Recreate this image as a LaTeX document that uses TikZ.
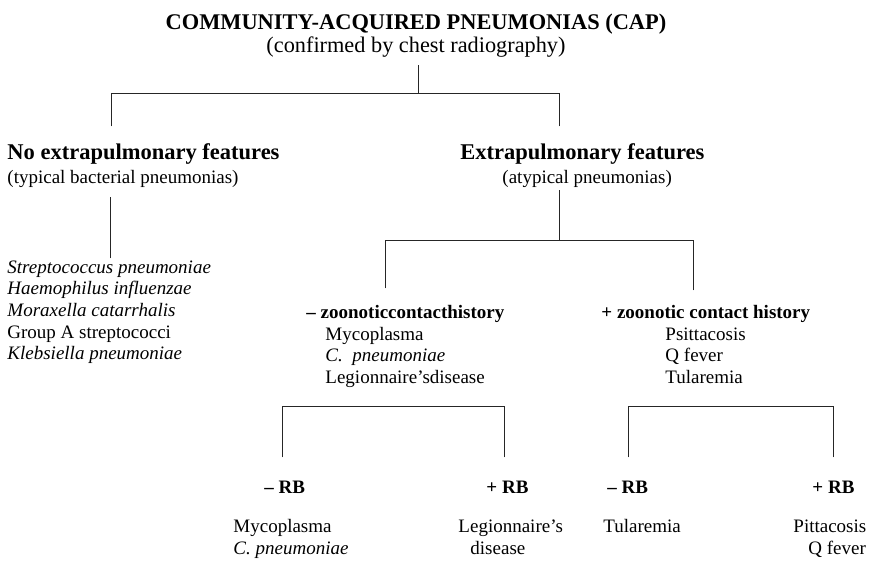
\documentclass[tikz,border=0pt]{standalone}
\usepackage{fontspec}
\setmainfont{Liberation Serif}
\begin{document}
\begin{tikzpicture}[x=1pt,y=-1pt,line width=0.9pt,
  conn/.style={draw=black!85,line cap=rect},
  titlefont/.style={inner sep=0,anchor=base,font=\fontsize{22.4}{26}\selectfont\bfseries},
  subtitlefont/.style={inner sep=0,anchor=base,font=\fontsize{22.3}{26}\selectfont},
  headfont/.style={inner sep=0,anchor=base west,font=\fontsize{22.5}{26}\selectfont\bfseries},
  subhead/.style={inner sep=0,anchor=base west,font=\fontsize{19}{21.7}\selectfont},
  boldhead/.style={inner sep=0,anchor=base west,font=\fontsize{19}{21.7}\selectfont\bfseries},
  listbox/.style={inner sep=0,anchor=base west,font=\fontsize{19}{21.7}\selectfont},
  reslist/.style={inner sep=0,anchor=base west,font=\fontsize{19}{22.5}\selectfont},
]
\useasboundingbox (0,0) rectangle (870,560);
\clip (0,0) rectangle (870,560);

% texts
\node[titlefont] (cap) at (416,29) {COMMUNITY-ACQUIRED PNEUMONIAS (CAP)};
\node[subtitlefont] (conf) at (416,52) {(confirmed by chest radiography)};
\node[headfont] (noext) at (7,159) {No extrapulmonary features};
\node[subhead] (typ) at (7,183) {(typical bacterial pneumonias)};
\node[headfont] (ext) at (460,159) {Extrapulmonary features};
\node[subhead] (atyp) at (502,183) {(atypical pneumonias)};
\node[listbox] (bact) at (7,273) {\begin{tabular}[t]{@{}l@{}}\textit{Streptococcus pneumoniae}\\\textit{Haemophilus influenzae}\\\textit{Moraxella catarrhalis}\\Group A streptococci\\\textit{Klebsiella pneumoniae}\end{tabular}};
\node[boldhead] (negz) at (306,318) {-- zoonoticcontacthistory};
\node[listbox] (negzl) at (325,340) {\begin{tabular}[t]{@{}l@{}}Mycoplasma\\\textit{C.\ \ pneumoniae}\\Legionnaire’sdisease\end{tabular}};
\node[boldhead] (posz) at (601,318) {+ zoonotic contact history};
\node[listbox] (poszl) at (665,340) {\begin{tabular}[t]{@{}l@{}}Psittacosis\\Q fever\\Tularemia\end{tabular}};

\node[boldhead] (rb1) at (264,493) {-- RB};
\node[boldhead] (rb2) at (486,493) {+ RB};
\node[boldhead] (rb3) at (607,493) {-- RB};
\node[boldhead] (rb4) at (812,493) {+ RB};

\node[reslist] (res1) at (233,532) {\begin{tabular}[t]{@{}l@{}}Mycoplasma\\\textit{C. pneumoniae}\end{tabular}};
\node[reslist] (res2) at (458,532) {\begin{tabular}[t]{@{}l@{}}Legionnaire’s\\\hspace{12pt}disease\end{tabular}};
\node[reslist] (res3) at (603,532) {Tularemia};
\node[reslist] (res4) at (793,532) {\begin{tabular}[t]{@{}l@{}}Pittacosis\\\hspace{15pt}Q fever\end{tabular}};

% junction coordinates
\coordinate (a0) at (418,65);
\coordinate (a1) at (418,93);
\coordinate (aL) at (111,93);
\coordinate (aR) at (559,93);
\coordinate (aLe) at (111,126);
\coordinate (aRe) at (559,126);
\coordinate (b0) at (110,197);
\coordinate (b1) at (110,258);
\coordinate (c0) at (559,190);
\coordinate (c1) at (559,240);
\coordinate (cL) at (385,240);
\coordinate (cR) at (693,240);
\coordinate (cLe) at (385,288);
\coordinate (cRe) at (693,290);
\coordinate (d1) at (282,457);
\coordinate (d2) at (282,406);
\coordinate (d3) at (504,406);
\coordinate (d4) at (504,457);
\coordinate (e1) at (628,457);
\coordinate (e2) at (628,406);
\coordinate (e3) at (833,406);
\coordinate (e4) at (833,457);

% connectors
\draw[conn] (a0) -- (a1);
\draw[conn] (aLe) -- (aL) -- (aR) -- (aRe);
\draw[conn] (b0) -- (b1);
\draw[conn] (c0) -- (c1);
\draw[conn] (cLe) -- (cL) -- (cR) -- (cRe);
\draw[conn] (d1) -- (d2) -- (d3) -- (d4);
\draw[conn] (e1) -- (e2) -- (e3) -- (e4);
\end{tikzpicture}
\end{document}
